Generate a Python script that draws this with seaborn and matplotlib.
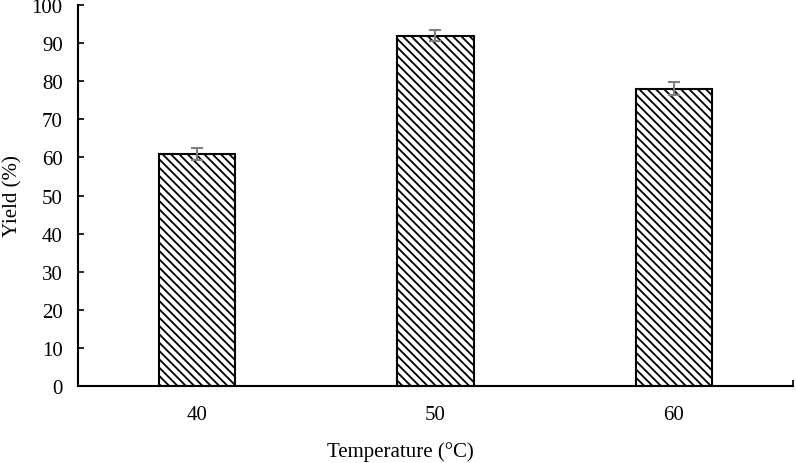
import pandas as pd
import matplotlib.pyplot as plt
import seaborn as sns

# Data
temperatures = ["40", "50", "60"]
yields = [61, 92, 78]
errors = [1.6, 1.5, 1.7]

df = pd.DataFrame({"Temperature": temperatures, "Yield": yields})

sns.set_style("white")
plt.rcParams["font.family"] = ["Liberation Serif", "DejaVu Serif"]
plt.rcParams["hatch.linewidth"] = 1.3
plt.rcParams["text.color"] = "black"
plt.rcParams["axes.labelcolor"] = "black"

fig = plt.figure(figsize=(7.96, 4.64), dpi=100)
ax = fig.add_axes([0.098, 0.166, 0.898, 0.821])

sns.barplot(data=df, x="Temperature", y="Yield", ax=ax, color="white",
            edgecolor="black", linewidth=1.5, width=0.32, errorbar=None)
for p in ax.patches:
    p.set_hatch("\\\\\\\\")
ax.errorbar(range(len(yields)), yields, yerr=errors, fmt="none",
            ecolor="#7f7f7f", elinewidth=1.5, capsize=4, capthick=1.5)

ax.set_xlim(-0.5, 2.5)
ax.set_ylim(0, 100)
ax.set_yticks(range(0, 101, 10))
ax.set_xticks(range(len(temperatures)))
ax.set_xticklabels(temperatures)
ax.set_xticks([2.5], minor=True)

ax.tick_params(axis="y", direction="in", length=4, width=1.2, left=True,
               labelsize=15, pad=11, colors="black")
ax.tick_params(axis="x", which="major", length=0, labelsize=15, pad=14,
               labelcolor="black")
ax.tick_params(axis="x", which="minor", direction="in", length=4, width=1.2,
               bottom=True, color="black")

for side in ["top", "right"]:
    ax.spines[side].set_visible(False)
for side in ["left", "bottom"]:
    ax.spines[side].set_color("black")
    ax.spines[side].set_linewidth(1.5)

ax.set_xlabel("")
ax.set_ylabel("Yield (%)", fontsize=15, color="black")
ax.yaxis.set_label_coords(-0.077, 0.5)
fig.text(0.503, 0.025, "Temperature (°C)", ha="center", va="center",
         fontsize=15, color="black")

fig.savefig("out.png", dpi=100)
